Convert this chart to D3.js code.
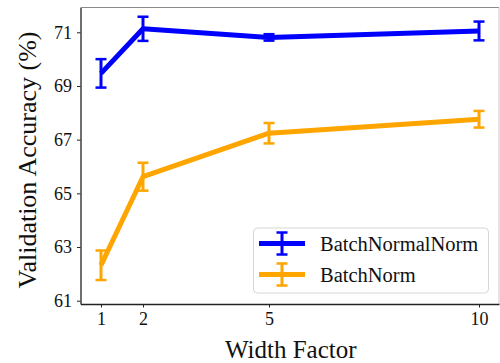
<!DOCTYPE html>
<html>
<head>
<meta charset="utf-8">
<script src="https://cdn.jsdelivr.net/npm/d3@7"></script>
<style>
  body { margin: 0; background: #fff; }
  svg { display: block; }
  svg text { font-family: "Liberation Serif", "Times New Roman", serif; }
</style>
</head>
<body>
<svg id="chart" width="500" height="363"></svg>
<script>
// data
var widthFactors = [1, 2, 5, 10];
var seriesNames = ["BatchNormalNorm", "BatchNorm"];
var seriesColors = ["#0000ff", "#ffa500"];
var bnnMean = [69.47, 71.13, 70.81, 71.05];
var bnnErr = [0.53, 0.45, 0.12, 0.35];
var bnMean = [62.32, 65.62, 67.24, 67.76];
var bnErr = [0.55, 0.52, 0.38, 0.31];
var xTicks = [1, 2, 5, 10];
var yTicks = [61, 63, 65, 67, 69, 71];

var svg = d3.select("#chart");

// plot area
var margin = { top: 7.5, left: 80.5 };
var plotW = 418.5, plotH = 296.5;

var x = d3.scaleLinear().domain([0.512, 10.476]).range([margin.left, margin.left + plotW]);
var y = d3.scaleLinear().domain([60.877, 71.924]).range([margin.top + plotH, margin.top]);

// spines: top and right look faded in the reference
svg.append("line")
  .attr("x1", margin.left).attr("x2", margin.left + plotW)
  .attr("y1", margin.top).attr("y2", margin.top)
  .attr("stroke", "#8a8a8a").attr("stroke-width", 1.2);
svg.append("line")
  .attr("x1", margin.left + plotW).attr("x2", margin.left + plotW)
  .attr("y1", margin.top).attr("y2", margin.top + plotH)
  .attr("stroke", "#c8c8c8").attr("stroke-width", 1);

// axes
var xAxis = svg.append("g")
  .attr("transform", "translate(0," + (margin.top + plotH) + ")")
  .call(d3.axisBottom(x).tickValues(xTicks).tickSize(3.5).tickPadding(4).tickSizeOuter(0));
var yAxis = svg.append("g")
  .attr("transform", "translate(" + margin.left + ",0)")
  .call(d3.axisLeft(y).tickValues(yTicks).tickSize(3.5).tickPadding(5).tickSizeOuter(0));

[xAxis, yAxis].forEach(function(a) {
  a.attr("font-family", null).attr("font-size", null);
  a.selectAll("text").style("font-family", "'Liberation Serif', serif").style("font-size", "18px").attr("fill", "#111");
  a.selectAll("line").attr("stroke", "#222").attr("stroke-width", 1);
  a.select(".domain").attr("stroke", "#222").attr("stroke-width", 1.3);
});
xAxis.selectAll("text").attr("dy", "0.75em");

// axis labels
svg.append("text")
  .attr("x", margin.left + plotW / 2 + 1).attr("y", 358)
  .attr("text-anchor", "middle").style("font-size", "25px").attr("fill", "#111")
  .text("Width Factor");
svg.append("text")
  .attr("transform", "translate(36,160) rotate(-90)")
  .attr("text-anchor", "middle").style("font-size", "26px").attr("fill", "#111")
  .text("Validation Accuracy (%)");

// series
var series = [
  { name: seriesNames[0], color: seriesColors[0], mean: bnnMean, err: bnnErr },
  { name: seriesNames[1], color: seriesColors[1], mean: bnMean, err: bnErr }
];

var line = d3.line()
  .x(function(d) { return x(d.x); })
  .y(function(d) { return y(d.m); });

var capHalf = 5.5;

series.forEach(function(s) {
  var pts = widthFactors.map(function(w, i) { return { x: w, m: s.mean[i], e: s.err[i] }; });
  var g = svg.append("g");

  g.append("path")
    .datum(pts)
    .attr("d", line)
    .attr("fill", "none")
    .attr("stroke", s.color)
    .attr("stroke-width", 5)
    .attr("stroke-linejoin", "round");

  var bars = g.selectAll("g.err").data(pts).enter().append("g").attr("class", "err");
  bars.append("line")
    .attr("x1", function(d) { return x(d.x); }).attr("x2", function(d) { return x(d.x); })
    .attr("y1", function(d) { return y(d.m - d.e); }).attr("y2", function(d) { return y(d.m + d.e); })
    .attr("stroke", s.color).attr("stroke-width", 3);
  [-1, 1].forEach(function(sign) {
    bars.append("line")
      .attr("x1", function(d) { return x(d.x) - capHalf; })
      .attr("x2", function(d) { return x(d.x) + capHalf; })
      .attr("y1", function(d) { return y(d.m + sign * d.e); })
      .attr("y2", function(d) { return y(d.m + sign * d.e); })
      .attr("stroke", s.color).attr("stroke-width", 2.5);
  });
});

// legend
var legend = svg.append("g");
legend.append("rect")
  .attr("x", 253.5).attr("y", 228).attr("width", 235).attr("height", 65)
  .attr("rx", 4).attr("fill", "#fff").attr("fill-opacity", 0.8)
  .attr("stroke", "#d6d6d6").attr("stroke-width", 1);

series.forEach(function(s, i) {
  var cy = 243.5 + i * 31;
  var item = legend.append("g");
  item.append("line")
    .attr("x1", 259).attr("x2", 305).attr("y1", cy).attr("y2", cy)
    .attr("stroke", s.color).attr("stroke-width", 5);
  item.append("line")
    .attr("x1", 282).attr("x2", 282).attr("y1", cy - 11).attr("y2", cy + 11)
    .attr("stroke", s.color).attr("stroke-width", 3);
  [-11, 11].forEach(function(off) {
    item.append("line")
      .attr("x1", 282 - capHalf).attr("x2", 282 + capHalf).attr("y1", cy + off).attr("y2", cy + off)
      .attr("stroke", s.color).attr("stroke-width", 2.5);
  });
  item.append("text")
    .attr("x", 320).attr("y", cy + 7.5)
    .style("font-size", "20.5px").attr("fill", "#111")
    .text(s.name);
});
</script>
</body>
</html>
